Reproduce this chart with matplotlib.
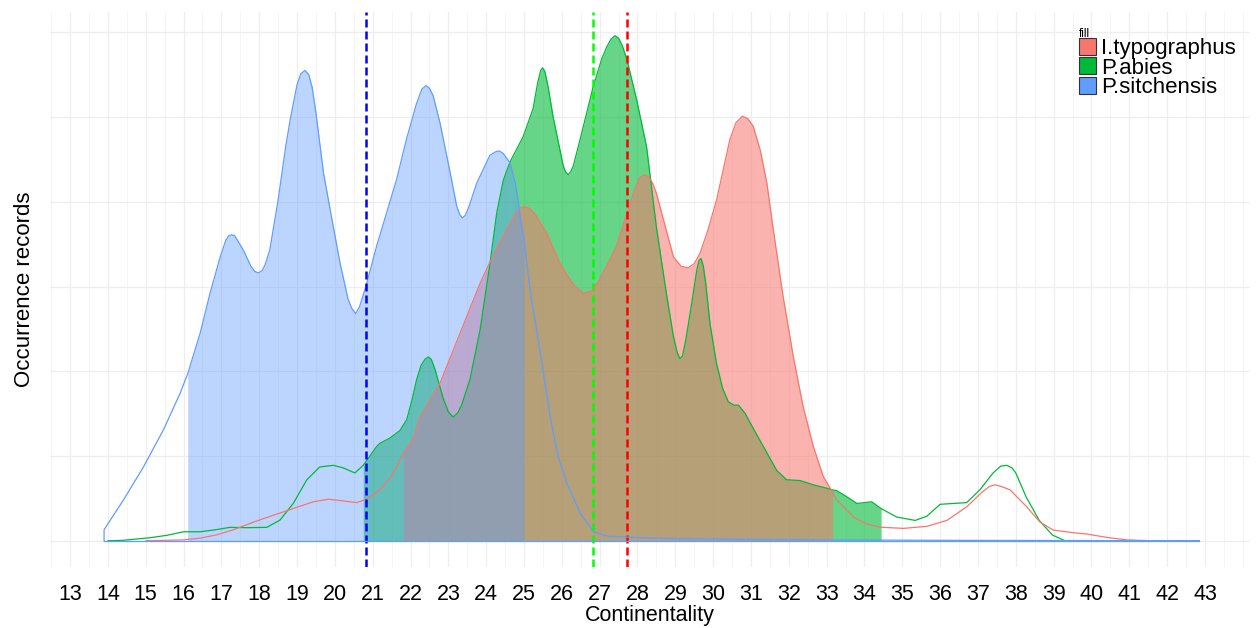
import numpy as np
import matplotlib
matplotlib.use('Agg')
import matplotlib.pyplot as plt
from matplotlib.patches import Patch
from matplotlib.ticker import MultipleLocator, FixedLocator

plt.rcParams['font.family'] = ['Liberation Sans', 'DejaVu Sans']

# density outlines (x = continentality, y = occurrence records, arbitrary units)
sitchensis_x = [13.90, 13.90, 14.00, 14.41, 14.94, 15.47, 15.91, 16.11, 16.44, 16.70,
                16.97, 17.12, 17.20, 17.27, 17.35, 17.42, 17.58, 17.78, 17.88, 17.98,
                18.08, 18.15, 18.28, 18.50, 18.70, 18.82, 19.00, 19.10, 19.21, 19.31,
                19.40, 19.50, 19.70, 19.92, 20.14, 20.35, 20.45, 20.55, 20.65, 20.82,
                21.10, 21.63, 21.90, 22.16, 22.30, 22.41, 22.50, 22.60, 22.78, 23.05,
                23.22, 23.30, 23.37, 23.45, 23.55, 23.75, 24.10, 24.25, 24.35, 24.45,
                24.63, 24.78, 24.90, 25.00, 25.16, 25.29, 25.42, 25.69, 25.90, 26.13,
                26.48, 26.83, 27.19, 27.88, 29.00, 31.00, 33.00, 36.00, 42.85]
sitchensis_y = [0.00, 0.13, 0.20, 0.48, 0.87, 1.31, 1.74, 1.97, 2.45, 2.92,
                3.35, 3.55, 3.60, 3.61, 3.60, 3.55, 3.43, 3.24, 3.18, 3.16,
                3.19, 3.25, 3.43, 4.02, 4.65, 4.97, 5.38, 5.51, 5.55, 5.50,
                5.35, 5.05, 4.34, 3.80, 3.27, 2.85, 2.74, 2.68, 2.76, 3.00,
                3.47, 4.26, 4.75, 5.16, 5.33, 5.37, 5.34, 5.25, 4.93, 4.34,
                3.95, 3.85, 3.81, 3.84, 3.95, 4.22, 4.55, 4.59, 4.60, 4.57,
                4.46, 4.20, 3.83, 3.55, 2.96, 2.60, 2.25, 1.47, 1.00, 0.68,
                0.33, 0.11, 0.055, 0.04, 0.025, 0.015, 0.01, 0.005, 0.0]

abies_x = [14.00, 14.40, 15.10, 15.56, 16.00, 16.44, 16.85, 17.23, 17.67, 18.20,
           18.55, 18.90, 19.26, 19.60, 19.96, 20.22, 20.53, 20.75, 21.10, 21.19,
           21.45, 21.72, 21.90, 22.05, 22.16, 22.28, 22.38, 22.47, 22.55, 22.65,
           22.85, 23.00, 23.13, 23.25, 23.35, 23.57, 23.84, 24.10, 24.28, 24.45,
           24.63, 24.98, 25.24, 25.36, 25.44, 25.49, 25.55, 25.64, 25.77, 26.04,
           26.10, 26.17, 26.24, 26.30, 26.48, 26.83, 27.05, 27.19, 27.30, 27.41,
           27.50, 27.60, 27.72, 27.98, 28.24, 28.50, 28.77, 28.95, 29.05, 29.12,
           29.19, 29.28, 29.39, 29.57, 29.63, 29.68, 29.74, 29.80, 29.92, 30.09,
           30.25, 30.40, 30.55, 30.67, 30.85, 30.98, 31.33, 31.68, 31.94, 32.30,
           32.65, 33.00, 33.16, 33.27, 33.53, 33.80, 34.00, 34.19, 34.44, 34.85,
           35.34, 35.65, 36.00, 36.35, 36.70, 37.05, 37.40, 37.60, 37.76, 37.90,
           38.00, 38.27, 38.62, 38.97, 39.30, 42.85]
abies_y = [0.0, 0.005, 0.035, 0.064, 0.106, 0.106, 0.13, 0.158, 0.154, 0.158,
           0.244, 0.44, 0.72, 0.87, 0.89, 0.86, 0.80, 0.89, 1.11, 1.15,
           1.21, 1.30, 1.43, 1.68, 1.90, 2.07, 2.14, 2.17, 2.14, 2.02,
           1.70, 1.52, 1.46, 1.51, 1.60, 1.90, 2.49, 3.27, 3.87, 4.25,
           4.47, 4.77, 5.10, 5.40, 5.55, 5.58, 5.54, 5.35, 5.00, 4.42,
           4.35, 4.32, 4.36, 4.42, 4.73, 5.36, 5.68, 5.83, 5.92, 5.96,
           5.93, 5.84, 5.68, 5.20, 4.65, 3.70, 2.90, 2.41, 2.22, 2.15,
           2.18, 2.38, 2.68, 3.20, 3.31, 3.33, 3.24, 3.05, 2.55, 2.09,
           1.80, 1.64, 1.60, 1.60, 1.50, 1.39, 1.11, 0.83, 0.72, 0.71,
           0.66, 0.62, 0.60, 0.59, 0.52, 0.44, 0.45, 0.46, 0.38, 0.28,
           0.24, 0.29, 0.43, 0.44, 0.45, 0.60, 0.80, 0.88, 0.89, 0.86,
           0.80, 0.52, 0.24, 0.067, 0.0, 0.0]

typographus_x = [15.00, 16.00, 16.44, 16.88, 17.32, 17.85, 18.37, 18.90, 19.43, 19.83,
                 20.22, 20.58, 20.84, 21.19, 21.46, 21.55, 21.81, 22.07, 22.25, 22.78,
                 23.31, 23.84, 24.10, 24.45, 24.79, 24.92, 25.03, 25.15, 25.30, 25.60,
                 25.95, 26.13, 26.35, 26.57, 26.80, 27.00, 27.44, 27.89, 28.05, 28.18,
                 28.30, 28.40, 28.50, 28.77, 28.95, 29.15, 29.34, 29.50, 29.65, 29.85,
                 30.09, 30.44, 30.60, 30.77, 30.92, 31.06, 31.25, 31.42, 31.59, 31.85,
                 32.12, 32.38, 32.65, 32.91, 33.16, 33.27, 33.71, 34.05, 34.41, 35.03,
                 35.65, 36.18, 36.70, 37.10, 37.30, 37.45, 37.62, 37.85, 38.29, 38.64,
                 38.99, 39.52, 39.87, 40.40, 40.93, 41.63, 42.85]
typographus_y = [0.0, 0.01, 0.03, 0.07, 0.13, 0.22, 0.30, 0.38, 0.46, 0.49,
                 0.47, 0.45, 0.49, 0.60, 0.74, 0.80, 1.03, 1.20, 1.46, 1.86,
                 2.45, 3.04, 3.29, 3.59, 3.87, 3.93, 3.94, 3.92, 3.85, 3.63,
                 3.27, 3.14, 3.00, 2.92, 2.95, 3.08, 3.47, 4.10, 4.28, 4.32,
                 4.29, 4.22, 4.10, 3.65, 3.35, 3.24, 3.22, 3.27, 3.39, 3.65,
                 4.02, 4.73, 4.93, 5.01, 4.98, 4.89, 4.60, 4.22, 3.67, 2.88,
                 2.17, 1.58, 1.11, 0.76, 0.57, 0.48, 0.28, 0.20, 0.16, 0.146,
                 0.17, 0.24, 0.40, 0.57, 0.64, 0.66, 0.64, 0.60, 0.40, 0.22,
                 0.126, 0.095, 0.08, 0.04, 0.01, 0.0, 0.0]

# shaded interval and reference line for each species
species = ['I.typographus', 'P.abies', 'P.sitchensis']
fill_from = {'I.typographus': 21.81, 'P.abies': 20.75, 'P.sitchensis': 16.11}
fill_to = {'I.typographus': 33.16, 'P.abies': 34.44, 'P.sitchensis': 25.00}
median = {'I.typographus': 27.73, 'P.abies': 26.83, 'P.sitchensis': 20.82}

colours = {'I.typographus': '#F8766D', 'P.abies': '#00BA38', 'P.sitchensis': '#619CFF'}
alphas = {'I.typographus': 0.55, 'P.abies': 0.6, 'P.sitchensis': 0.42}
vcolours = {'I.typographus': '#FF0000', 'P.abies': '#00FF00', 'P.sitchensis': '#0000FF'}
curves = {'I.typographus': (typographus_x, typographus_y),
          'P.abies': (abies_x, abies_y),
          'P.sitchensis': (sitchensis_x, sitchensis_y)}

fig = plt.figure(figsize=(12.57, 6.28), dpi=100)
ax = fig.add_axes([0.0398, 0.0971, 0.9546, 0.8839])

for name in ['P.abies', 'I.typographus', 'P.sitchensis']:
    x = np.array(curves[name][0])
    y = np.array(curves[name][1])
    sel = (x >= fill_from[name]) & (x <= fill_to[name])
    ax.fill_between(x[sel], 0, y[sel], color=colours[name], alpha=alphas[name],
                    linewidth=0)
    ax.plot(x, y, color=colours[name], lw=0.9)
    ax.axvline(median[name], color=vcolours[name], lw=1.8, dashes=(3.2, 1.6))

# blue baseline runs along the bottom of the sitchensis polygon
ax.plot([sitchensis_x[0], sitchensis_x[-1]], [0, 0], color=colours['P.sitchensis'], lw=0.9)

ax.set_xlim(12.471, 44.19)
ax.set_ylim(-0.31, 6.24)
ax.xaxis.set_major_locator(FixedLocator(range(13, 44)))
ax.xaxis.set_minor_locator(MultipleLocator(0.5))
ax.yaxis.set_major_locator(MultipleLocator(1))
ax.set_yticklabels([])
ax.tick_params(axis='both', which='both', length=0)
ax.tick_params(axis='x', labelsize=15.5, pad=12, colors='#000000')
ax.grid(which='major', color='#EEEEEE', lw=0.9)
ax.grid(which='minor', axis='x', color='#F4F4F4', lw=0.6)
ax.set_axisbelow(True)
for s in ax.spines.values():
    s.set_visible(False)

ax.set_xlabel('Continentality', fontsize=15.5, labelpad=0)
ax.set_ylabel('Occurrence records', fontsize=16, labelpad=7)

handles = [Patch(facecolor=colours[n], edgecolor='#333333', lw=0.8) for n in species]
leg = fig.legend(handles, species, title='fill', loc='upper left',
                 bbox_to_anchor=(0.858, 0.955), frameon=False, fontsize=16,
                 title_fontsize=8.5, handlelength=0.8, handleheight=0.8,
                 handletextpad=0.2, labelspacing=-0.09, borderpad=0,
                 borderaxespad=0, alignment='left')

fig.savefig('out.png', dpi=100)
